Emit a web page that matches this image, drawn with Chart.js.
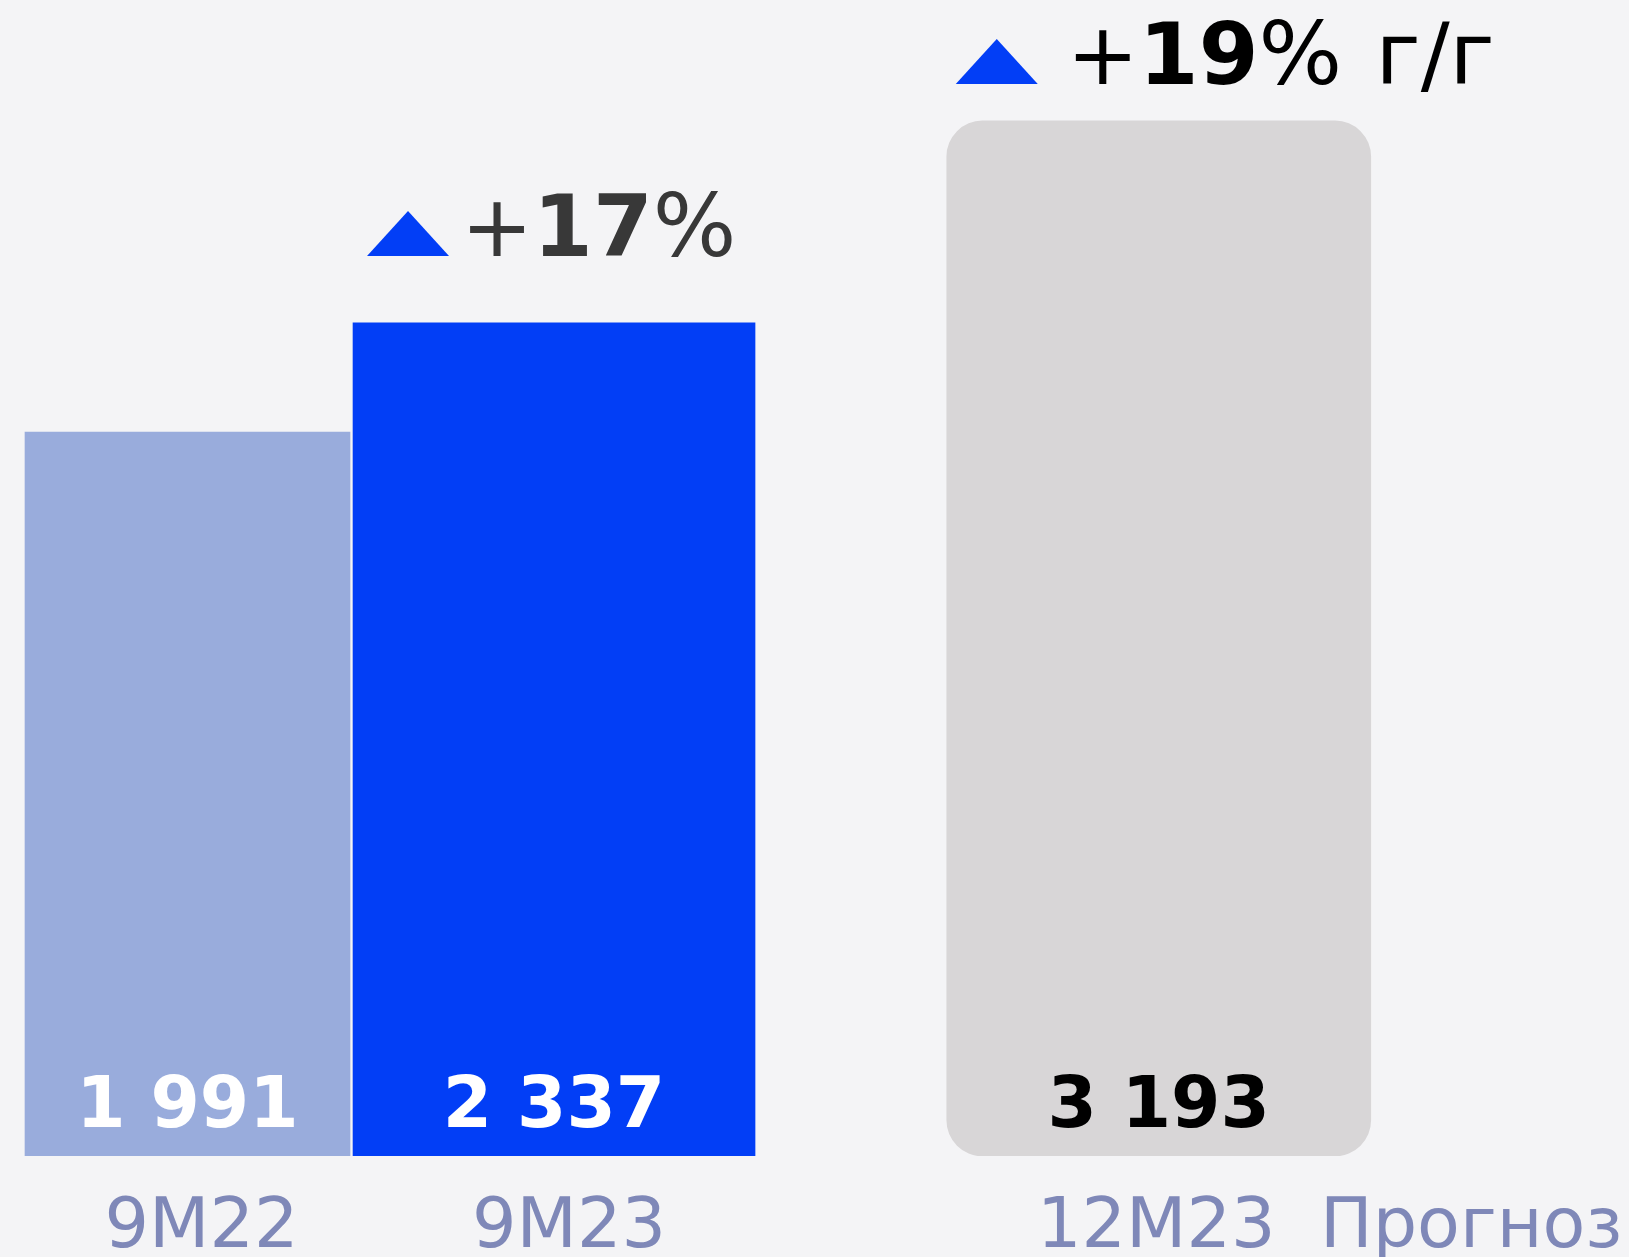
<!DOCTYPE html>
<html>
<head>
<meta charset="utf-8">
<script src="https://cdn.jsdelivr.net/npm/chart.js@4"></script>
<style>
  html, body { margin: 0; padding: 0; background: #F4F4F6; }
  canvas { display: block; }
</style>
</head>
<body>
<canvas id="chart" width="1629" height="1257"></canvas>
<script>
const categories = ['9M22', '9M23', '12M23  Прогноз'];
const values = [1991, 2337, 3193];
const growth = [null, 17, 19];
const growthSuffix = ['', '', ' г/г'];

// layout only
const slots = [0, 1, 2.65];
const barWidths = [325, 402, 424];
const barColors = ['#99ACDC', '#023EF6', '#D8D6D7'];
const valueColors = ['#FFFFFF', '#FFFFFF', '#000000'];
const growthColors = [null, '#383838', '#000000'];
const growthGap = [0, 67, 37];
const triOffset = [0, 14, 9];
const textGap = [0, 12, 29];
const labelShift = [14, 15, 171];
const yMin = -305;

const fmt = v => String(v).replace(/\B(?=(\d{3})+(?!\d))/g, ' ');

const overlay = {
  id: 'overlay',
  afterDatasetsDraw(chart) {
    const ctx = chart.ctx;
    ctx.save();
    ctx.textBaseline = 'alphabetic';
    values.forEach((v, i) => {
      const el = chart.getDatasetMeta(i).data[0];
      // value inside bar
      ctx.font = 'bold 71px "DejaVu Sans"';
      ctx.fillStyle = valueColors[i];
      ctx.textAlign = 'center';
      ctx.fillText(fmt(v), el.x, el.base - 29);
      // category label
      ctx.font = '70px "DejaVu Sans"';
      ctx.fillStyle = '#7F88B8';
      ctx.fillText(categories[i], el.x + labelShift[i], 1247);
      // growth annotation
      if (growth[i] != null) {
        const base = el.y - growthGap[i];
        const left = el.x - el.width / 2 + triOffset[i];
        ctx.fillStyle = '#023EF6';
        ctx.beginPath();
        ctx.moveTo(left, base);
        ctx.lineTo(left + 41, base - 45);
        ctx.lineTo(left + 82, base);
        ctx.closePath();
        ctx.fill();
        ctx.fillStyle = growthColors[i];
        ctx.textAlign = 'left';
        let x = left + 82 + textGap[i];
        const parts = [['+', '86px'], [String(growth[i]), 'bold 86px'], ['%', '88px'], [growthSuffix[i], '86px']];
        parts.forEach(([t, f]) => {
          if (!t) return;
          ctx.font = f + ' "DejaVu Sans"';
          ctx.fillText(t, x, base);
          x += ctx.measureText(t).width + (t === '%' ? 6 : 0);
        });
      }
    });
    ctx.restore();
  }
};

new Chart(document.getElementById('chart'), {
  type: 'bar',
  data: {
    datasets: values.map((v, i) => ({
      label: categories[i],
      data: [{ x: slots[i], y: v }],
      yAxisID: i === 2 ? 'y2' : 'y',
      base: i === 2 ? 0 : yMin,
      backgroundColor: barColors[i],
      barThickness: barWidths[i],
      borderRadius: i === 2 ? 36 : 0,
      borderSkipped: i === 2 ? false : 'start',
      grouped: false
    }))
  },
  options: {
    responsive: false,
    animation: false,
    layout: { padding: { left: 0, right: 0, top: 0, bottom: 101 } },
    plugins: { legend: { display: false }, tooltip: { enabled: false } },
    scales: {
      x: { type: 'linear', min: -0.5116, max: 3.933, offset: false, display: false },
      y: { min: yMin, max: 3361, display: false },
      y2: { min: 0, max: 3566, display: false }
    }
  },
  plugins: [overlay]
});
</script>
</body>
</html>
